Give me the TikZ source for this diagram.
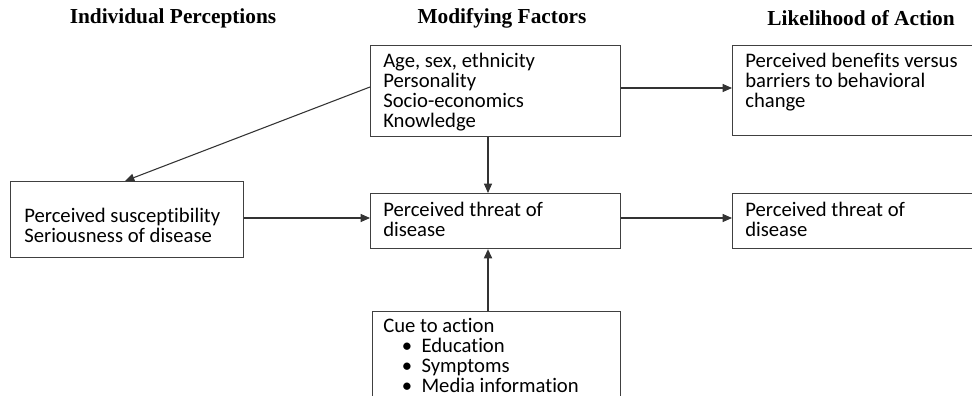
\documentclass[tikz,border=0pt]{standalone}
\usepackage{fontspec}
\setmainfont[Ligatures={NoCommon}]{Carlito}
\newfontfamily\headfont{Liberation Serif}
\usetikzlibrary{arrows.meta}
\begin{document}
\begin{tikzpicture}[x=0.75pt,y=-0.75pt,
  frame/.style={draw=black!75,line width=0.8pt,anchor=north west,inner sep=0pt},
  boxtext/.style={anchor=north west,align=left,inner sep=0pt,
    font=\fontsize{15.5}{15}\selectfont,text=black},
  heading/.style={font=\headfont\bfseries\fontsize{16}{18}\selectfont},
  link/.style={draw=black!80,line width=0.8pt,-{Triangle[length=7pt,width=6pt]}}]
\clip (0,0) rectangle (972,396);
\fill[white] (0,0) rectangle (972,396);

% column headings
\node[heading] (h1) at (173,18) {Individual Perceptions};
\node[heading] (h2) at (502,18) {Modifying Factors};
\node[heading] (h3) at (861,18) {Likelihood of Action};

% boxes
\node[frame,minimum width=187.5pt,minimum height=68.25pt] (mod) at (370,45) {};
\node[frame,minimum width=186pt,minimum height=67.5pt] (ben) at (732,45) {};
\node[frame,minimum width=174.75pt,minimum height=57pt] (ind) at (10,181) {};
\node[frame,minimum width=187.5pt,minimum height=41.25pt] (thr) at (370,193) {};
\node[frame,minimum width=186pt,minimum height=41.25pt] (act) at (732,193) {};
\node[frame,minimum width=186pt,minimum height=75pt] (cue) at (372,311) {};

% box texts
\node[boxtext] (modt) at (383,53) {Age, sex, ethnicity\\Personality\\Socio-economics\\Knowledge};
\node[boxtext] (bent) at (745,53) {Perceived benefits versus\\barriers to behavioral\\change};
\node[boxtext] (indt) at (24,208) {Perceived susceptibility\\Seriousness of disease};
\node[boxtext] (thrt) at (383,202) {Perceived threat of\\disease};
\node[boxtext] (actt) at (745,202) {Perceived threat of\\disease};
\node[boxtext] (cuet) at (383,318) {Cue to action\\
  \hspace*{14pt}•\hspace*{7pt}Education\\
  \hspace*{14pt}•\hspace*{7pt}Symptoms\\
  \hspace*{14pt}•\hspace*{7pt}Media information};

% connectors
\draw[link] (mod.east |- 0,88) -- (ben.west |- 0,88);
\draw[link] (mod.south -| 488,0) -- (thr.north -| 488,0);
\draw[link] (mod.west |- 0,87) -- (ind.north -| 125,0);
\draw[link] (ind.east |- 0,218) -- (thr.west |- 0,218);
\draw[link] (thr.east |- 0,218) -- (act.west |- 0,218);
\draw[link,line width=1.4pt] (cue.north -| 488,0) -- (thr.south -| 488,0);
\end{tikzpicture}
\end{document}
